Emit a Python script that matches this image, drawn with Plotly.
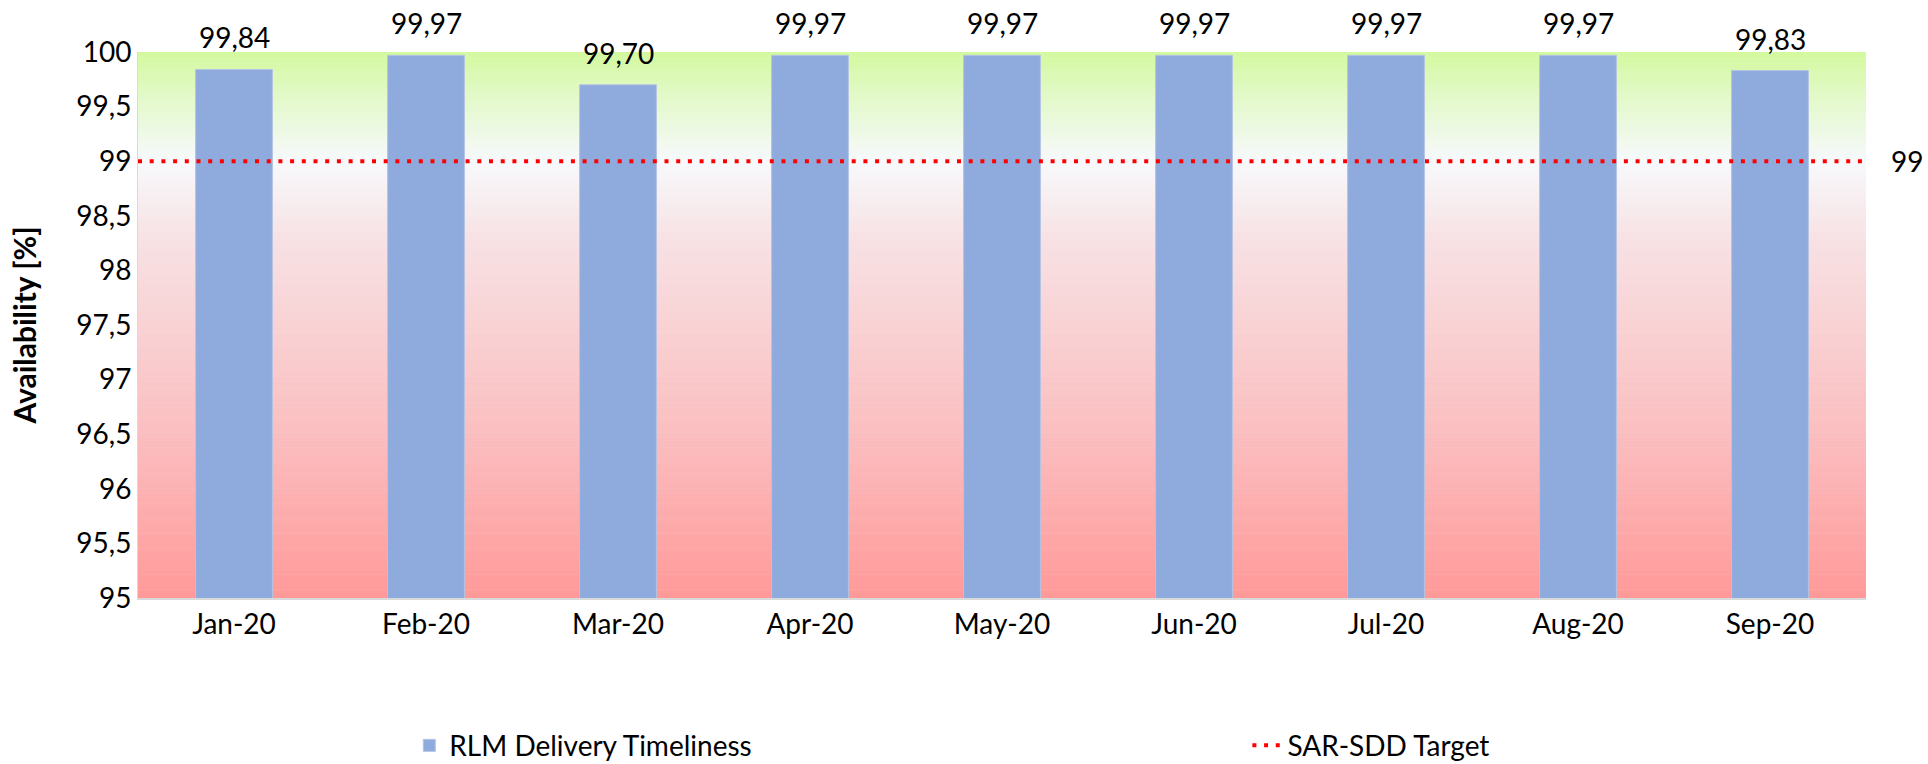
import plotly.graph_objects as go

months = ["Jan-20", "Feb-20", "Mar-20", "Apr-20", "May-20", "Jun-20", "Jul-20", "Aug-20", "Sep-20"]
availability = [99.84, 99.97, 99.70, 99.97, 99.97, 99.97, 99.97, 99.97, 99.83]
target = 99
y_ticks = [95, 95.5, 96, 96.5, 97, 97.5, 98, 98.5, 99, 99.5, 100]
y_tick_labels = ["95", "95,5", "96", "96,5", "97", "97,5", "98", "98,5", "99", "99,5", "100"]

FONT = "Lato"
FS = 28
fig = go.Figure()

fig.add_trace(go.Bar(
    x=months, y=availability, name="RLM Delivery Timeliness",
    marker=dict(color="#8FAADC", line=dict(color="#B4C3E3", width=1)),
    width=0.4, legend="legend",
))
fig.add_trace(go.Scatter(
    x=[0, 1], y=[target, target], xaxis="x2", mode="lines",
    name="SAR-SDD Target", line=dict(color="#FF0000", width=4, dash="4px,7.7px"),
    legend="legend2", hoverinfo="skip",
))

# gradient background
stops = [(95.0, (255, 153, 153)), (96.5, (251, 190, 192)), (98.3, (247, 226, 228)),
         (99.0, (247, 249, 252)), (99.6, (226, 249, 200)), (100.0, (211, 249, 158))]
n = 400
shapes = []
for i in range(n):
    y0 = 95 + 5 * i / n
    y1 = 95 + 5 * (i + 1) / n
    ym = (y0 + y1) / 2
    for (a, ca), (b, cb) in zip(stops[:-1], stops[1:]):
        if a <= ym <= b:
            t = (ym - a) / (b - a)
            c = tuple(round(ca[k] + (cb[k] - ca[k]) * t) for k in range(3))
            break
    shapes.append(dict(type="rect", xref="paper", yref="y", x0=0, x1=1, y0=y0,
                       y1=min(y1 + 0.006, 100),
                       fillcolor="rgb(%d,%d,%d)" % c, line=dict(width=0), layer="below"))

annotations = []
for m, v in zip(months, availability):
    annotations.append(dict(x=m, y=v, text=f"{v:.2f}".replace(".", ","), showarrow=False,
                            yanchor="bottom", yshift=13, font=dict(size=FS, color="#000", family=FONT)))
annotations.append(dict(xref="paper", x=1, y=target, text=str(target), showarrow=False,
                        xanchor="right", xshift=59, font=dict(size=FS, color="#000", family=FONT)))

fig.update_layout(
    width=1928, height=764,
    margin=dict(l=138, r=62, t=52, b=166, autoexpand=False),
    plot_bgcolor="white", paper_bgcolor="white",
    separators=",.",
    shapes=shapes, annotations=annotations,
    font=dict(family=FONT, size=FS, color="#000"),
    xaxis=dict(showgrid=False, showline=True, linecolor="#D9D9D9", linewidth=2,
               ticks="", tickfont=dict(size=FS, family=FONT)),
    xaxis2=dict(overlaying="x", range=[0, 1], visible=False, fixedrange=True),
    yaxis=dict(range=[95, 100], tickvals=y_ticks, ticktext=y_tick_labels, showgrid=False,
               showline=True, linecolor="#D9D9D9", linewidth=1, ticks="", zeroline=False,
               tickfont=dict(size=FS, family=FONT),
               title=dict(text="<b>Availability [%]</b>", font=dict(size=30, family=FONT), standoff=30)),
    legend=dict(orientation="h", x=0.157, xanchor="left", yref="container", y=0.024, yanchor="middle",
                font=dict(size=FS, family=FONT), bgcolor="rgba(0,0,0,0)"),
    legend2=dict(orientation="h", x=0.642, xanchor="left", yref="container", y=0.024, yanchor="middle",
                 font=dict(size=FS, family=FONT), bgcolor="rgba(0,0,0,0)"),
    showlegend=True,
)

fig.write_html("out.html", config={"displayModeBar": False},
               post_script="document.body.style.margin='0';document.body.style.overflow='hidden';")
